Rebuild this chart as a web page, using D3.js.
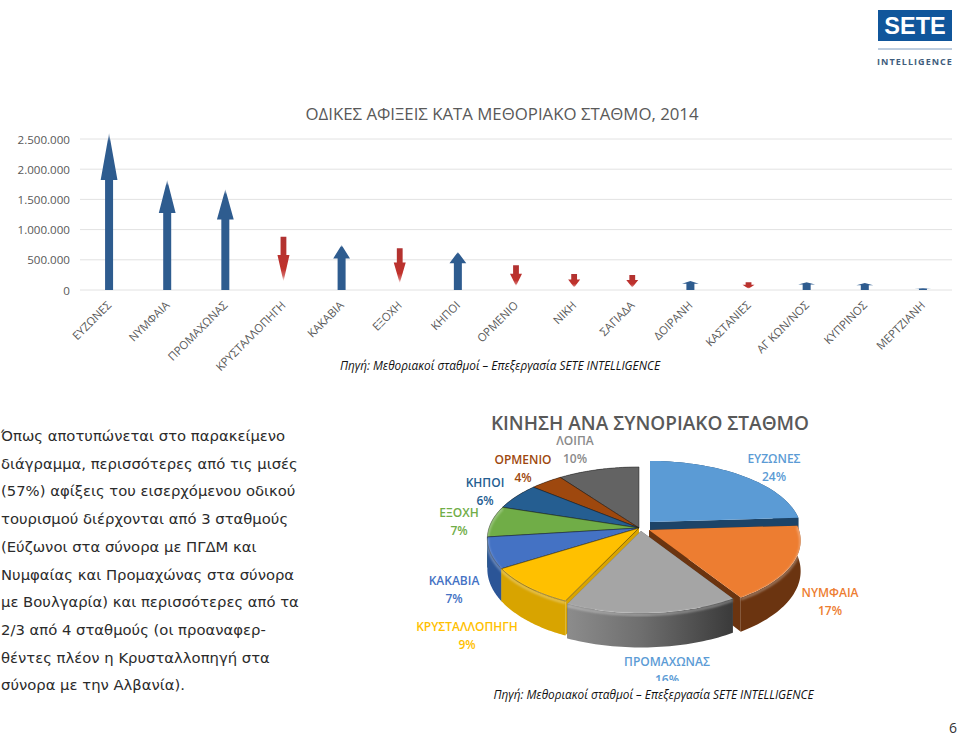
<!DOCTYPE html>
<html><head><meta charset="utf-8">
<script src="https://cdn.jsdelivr.net/npm/d3@7"></script>
<style>html,body{margin:0;padding:0;background:#fff}svg{display:block}</style>
</head><body><svg id="c" width="960" height="737"></svg>
<script>
// ---- bar chart data
const stations = ["ΕΥΖΩΝΕΣ","ΝΥΜΦΑΙΑ","ΠΡΟΜΑΧΩΝΑΣ","ΚΡΥΣΤΑΛΛΟΠΗΓΗ","ΚΑΚΑΒΙΑ","ΕΞΟΧΗ","ΚΗΠΟΙ","ΟΡΜΕΝΙΟ","ΝΙΚΗ","ΣΑΓΙΑΔΑ","ΔΟΙΡΑΝΗ","ΚΑΣΤΑΝΙΕΣ","ΑΓ ΚΩΝ/ΝΟΣ","ΚΥΠΡΙΝΟΣ","ΜΕΡΤΖΙΑΝΗ"];
const arrivals = [2600000,1820000,1670000,880000,745000,690000,630000,410000,265000,250000,150000,130000,130000,115000,30000];
const direction = ["up","up","up","down","up","down","up","down","down","down","up","down","up","up","up"];
const yTicks = [0,500000,1000000,1500000,2000000,2500000];
const yTickLabels = ["0","500.000","1.000.000","1.500.000","2.000.000","2.500.000"];
// ---- pie data
const pieNames = ["ΕΥΖΩΝΕΣ","ΝΥΜΦΑΙΑ","ΠΡΟΜΑΧΩΝΑΣ","ΚΡΥΣΤΑΛΛΟΠΗΓΗ","ΚΑΚΑΒΙΑ","ΕΞΟΧΗ","ΚΗΠΟΙ","ΟΡΜΕΝΙΟ","ΛΟΙΠΑ"];
const piePct = [24,17,16,9,7,7,6,4,10];
const pieTop = ["#5b9bd5","#ed7d31","#a5a5a5","#ffc000","#4472c4","#70ad47","#255e91","#9e480e","#636363"];
const pieWall = ["#1d4468","#6b3410","#5a5a5a","#d8a400","#2b5597","#4a7a2c","#183f63","#6b300a","#444444"];
const pieLabelColor = ["#5b9bd5","#ed7d31","#5b9bd5","#ffc000","#4472c4","#70ad47","#255e91","#9e480e","#8a8a8a"];
const pieLabelPos = [[774,459],[830,593],[667,662],[467,627],[454,581],[459,513],[485,483],[523,460],[575,441]];
const pieOffset = [[11,-6],[10,2],[2,3],[0,0],[0,0],[0,0],[0,0],[0,0],[0,0]];
const paragraph = ["Όπως αποτυπώνεται στο παρακείμενο","διάγραμμα, περισσότερες από τις μισές","(57%) αφίξεις του εισερχόμενου οδικού","τουρισμού διέρχονται από 3 σταθμούς","(Εύζωνοι στα σύνορα με ΠΓΔΜ και","Νυμφαίας και Προμαχώνας στα σύνορα","με Βουλγαρία) και περισσότερες από τα","2/3 από 4 σταθμούς (οι προαναφερ-","θέντες πλέον η Κρυσταλλοπηγή στα","σύνορα με την Αλβανία)."];

const svg = d3.select("#c");
const defs = svg.append("defs");
const LAB = "'Open Sans','Noto Sans',sans-serif";

const rg = defs.append("linearGradient").attr("id","redFade").attr("x1",0).attr("x2",0).attr("y1",0).attr("y2",1);
[[0,"#b03030",1],[.72,"#c0302c",1],[.88,"#c43a36",.75],[1,"#c43a36",0]].forEach(s=>rg.append("stop").attr("offset",s[0]).attr("stop-color",s[1]).attr("stop-opacity",s[2]));
const bg = defs.append("linearGradient").attr("id","blueFade").attr("x1",0).attr("x2",0).attr("y1",0).attr("y2",1);
[[0,"#9fb0c6",.7],[.05,"#2f5b8f",1],[1,"#2f5b8f",1]].forEach(s=>bg.append("stop").attr("offset",s[0]).attr("stop-color",s[1]).attr("stop-opacity",s[2]));
const grayG = defs.append("linearGradient").attr("id","grayWall").attr("x1",0).attr("x2",1).attr("y1",0).attr("y2",0);
[[0,"#8c8c8c"],[.45,"#6e6e6e"],[1,"#3a3a3a"]].forEach(s=>grayG.append("stop").attr("offset",s[0]).attr("stop-color",s[1]));
defs.append("filter").attr("id","soft").append("feGaussianBlur").attr("stdDeviation",0.55);
const rimBlur = defs.append("filter").attr("id","rimBlur").attr("x","-5%").attr("y","-10%").attr("width","110%").attr("height","120%");
rimBlur.append("feGaussianBlur").attr("stdDeviation",1.1);
defs.append("clipPath").attr("id","labClip").append("rect").attr("x",400).attr("y",400).attr("width",500).attr("height",281);

// ---- title
svg.append("text").attr("x",502).attr("y",120).attr("text-anchor","middle").attr("font-family",LAB).attr("font-size",16.8).attr("fill","#595959").text("ΟΔΙΚΕΣ ΑΦΙΞΕΙΣ ΚΑΤΑ ΜΕΘΟΡΙΑΚΟ ΣΤΑΘΜΟ, 2014");

// ---- bar chart
const x = d3.scaleBand().domain(stations).range([80,952]);
const y = d3.scaleLinear().domain([0,2500000]).range([290,139]);
svg.append("g").selectAll("line").data(yTicks).join("line")
  .attr("x1",80).attr("x2",952).attr("y1",d=>y(d)).attr("y2",d=>y(d))
  .attr("stroke","#e2e2e2").attr("stroke-width",1);
svg.append("g").selectAll("text").data(yTicks).join("text")
  .attr("x",70).attr("y",d=>y(d)+4.5).attr("text-anchor","end")
  .attr("font-family",LAB).attr("font-size",11.6).attr("fill","#595959")
  .text((d,i)=>yTickLabels[i]);

const arrowPath = (d,i)=>{
  const c = x(d)+x.bandwidth()/2, t = y(arrivals[i]), b = y(0), h = b-t;
  if(direction[i]==="up"){
    const hs=4, hw=8.4, neck=t+h*.3;
    return d3.line()([[c-hs,b],[c-hs,neck],[c-hw,neck],[c,t],[c+hw,neck],[c+hs,neck],[c+hs,b]])+"Z";
  }
  const hs=2.9, hw=6, neck=t+h*.34, tip=t+h*.84;
  return d3.line()([[c-hs,t],[c+hs,t],[c+hs,neck],[c+hw,neck],[c,tip],[c-hw,neck],[c-hs,neck]])+"Z";
};
svg.append("g").attr("filter","url(#soft)").selectAll("path").data(stations).join("path")
  .attr("d",arrowPath).attr("fill",(d,i)=>direction[i]==="up"?"url(#blueFade)":"url(#redFade)");

svg.append("g").selectAll("text").data(stations).join("text")
  .attr("transform",d=>`translate(${x(d)+x.bandwidth()/2+3},${306}) rotate(-45)`)
  .attr("text-anchor","end").attr("font-family",LAB).attr("font-size",11.3).attr("fill","#595959").text(d=>d);

svg.append("text").attr("x",500).attr("y",370).attr("text-anchor","middle").attr("font-family",LAB)
  .attr("font-style","italic").attr("font-size",11.8).attr("fill","#111").text("Πηγή: Μεθοριακοί  σταθμοί – Επεξεργασία SETE INTELLIGENCE");

// ---- paragraph
svg.append("g").selectAll("text").data(paragraph).join("text")
  .attr("x",1).attr("y",(d,i)=>441+i*27.7).attr("font-family","'DejaVu Sans',Verdana,sans-serif")
  .attr("font-size",14.8).attr("fill","#2b2b2b").text(d=>d);

// ---- pie
const cx=639, cy=528, Rx=150, Ry=70, P=0.147, depth=30;
const proj=(a,r)=>{ const v=-Math.cos(a), f=1/(1-P*v*r); return [Rx*r*Math.sin(a)*f, Ry*r*v*f]; };
const pie = d3.pie().sort(null).value(d=>d);
const slices = pie(piePct).map((s,i)=>({...s,i}));
const outer=(a0,a1)=>d3.range(0,41).map(k=>proj(a0+(a1-a0)*k/40,1));
const place=(p,o,dz)=>{ const v=p[1]/ (Ry); return [cx+o[0]+p[0], cy+o[1]+p[1]+dz*(1+P*Math.max(-1,Math.min(1,v)))]; };
const line=d3.line();
const order=[...slices].sort((a,b)=>(-Math.cos((a.startAngle+a.endAngle)/2))-(-Math.cos((b.startAngle+b.endAngle)/2)));
const gp=svg.append("g");
order.forEach(s=>{
  const i=s.i,o=pieOffset[i];
  const arc=outer(s.startAngle,s.endAngle);
  const g=gp.append("g");
  const wallFill=i===2?"url(#grayWall)":pieWall[i];
  [s.startAngle,s.endAngle].forEach(a=>{
    const e=proj(a,1);
    g.append("path").attr("d",line([place([0,0],o,0),place(e,o,0),place(e,o,depth),place([0,0],o,depth)])+"Z").attr("fill",pieWall[i]);
  });
  const rim=arc.map(p=>place(p,o,0)).concat(arc.slice().reverse().map(p=>place(p,o,depth)));
  g.append("path").attr("d",line(rim)+"Z").attr("fill",wallFill);
  const top=[place([0,0],o,0)].concat(arc.map(p=>place(p,o,0)));
  g.append("path").attr("d",line(top)+"Z").attr("fill",pieTop[i]).attr("stroke","#1c1c1c").attr("stroke-opacity",i<2?0:(i===2?0:.7)).attr("stroke-width",.7);
  // soft highlight where the top face rolls over into the wall
  if(Math.cos((s.startAngle+s.endAngle)/2)<0.2)
    g.append("path").attr("d",line(arc.map(p=>place(p,o,1.5)))).attr("fill","none").attr("stroke","#fff").attr("stroke-opacity",.35).attr("stroke-width",2.4).attr("filter","url(#rimBlur)");
});

// ---- pie labels
svg.append("text").attr("x",650).attr("y",430).attr("text-anchor","middle").attr("font-family",LAB).attr("font-size",19).attr("font-weight",600).attr("fill","#595959").text("ΚΙΝΗΣΗ ΑΝΑ ΣΥΝΟΡΙΑΚΟ ΣΤΑΘΜΟ");
const lg=svg.append("g").attr("clip-path","url(#labClip)");
const lab=lg.selectAll("text").data(pieNames).join("text")
  .attr("text-anchor","middle").attr("font-family",LAB).attr("font-size",12).attr("font-weight",600)
  .attr("fill",(d,i)=>pieLabelColor[i]);
lab.append("tspan").attr("x",(d,i)=>pieLabelPos[i][0]).attr("y",(d,i)=>pieLabelPos[i][1]+4).text(d=>d);
lab.append("tspan").attr("x",(d,i)=>pieLabelPos[i][0]).attr("y",(d,i)=>pieLabelPos[i][1]+22).text((d,i)=>piePct[i]+"%");

svg.append("text").attr("x",653.5).attr("y",699).attr("text-anchor","middle").attr("font-family",LAB)
  .attr("font-style","italic").attr("font-size",11.8).attr("fill","#111").text("Πηγή: Μεθοριακοί  σταθμοί – Επεξεργασία SETE INTELLIGENCE");

// ---- logo
svg.append("rect").attr("x",878).attr("y",10).attr("width",74).attr("height",31).attr("fill","#10569b");
svg.append("text").attr("x",915).attr("y",34).attr("text-anchor","middle").attr("font-family","'Liberation Sans',sans-serif").attr("font-weight",700).attr("font-size",23.5).attr("fill","#fff").text("SETE");
svg.append("line").attr("x1",878).attr("x2",952).attr("y1",49).attr("y2",49).attr("stroke","#7d9cc0");
svg.append("text").attr("x",915).attr("y",65).attr("text-anchor","middle").attr("font-family",LAB).attr("font-weight",700).attr("font-size",9).attr("letter-spacing",1.05).attr("fill","#3f5d7d").text("INTELLIGENCE");

// ---- page number
svg.append("text").attr("x",953).attr("y",732.8).attr("text-anchor","middle").attr("font-family",LAB).attr("font-size",14).attr("fill","#333").text("6");
</script></body></html>
